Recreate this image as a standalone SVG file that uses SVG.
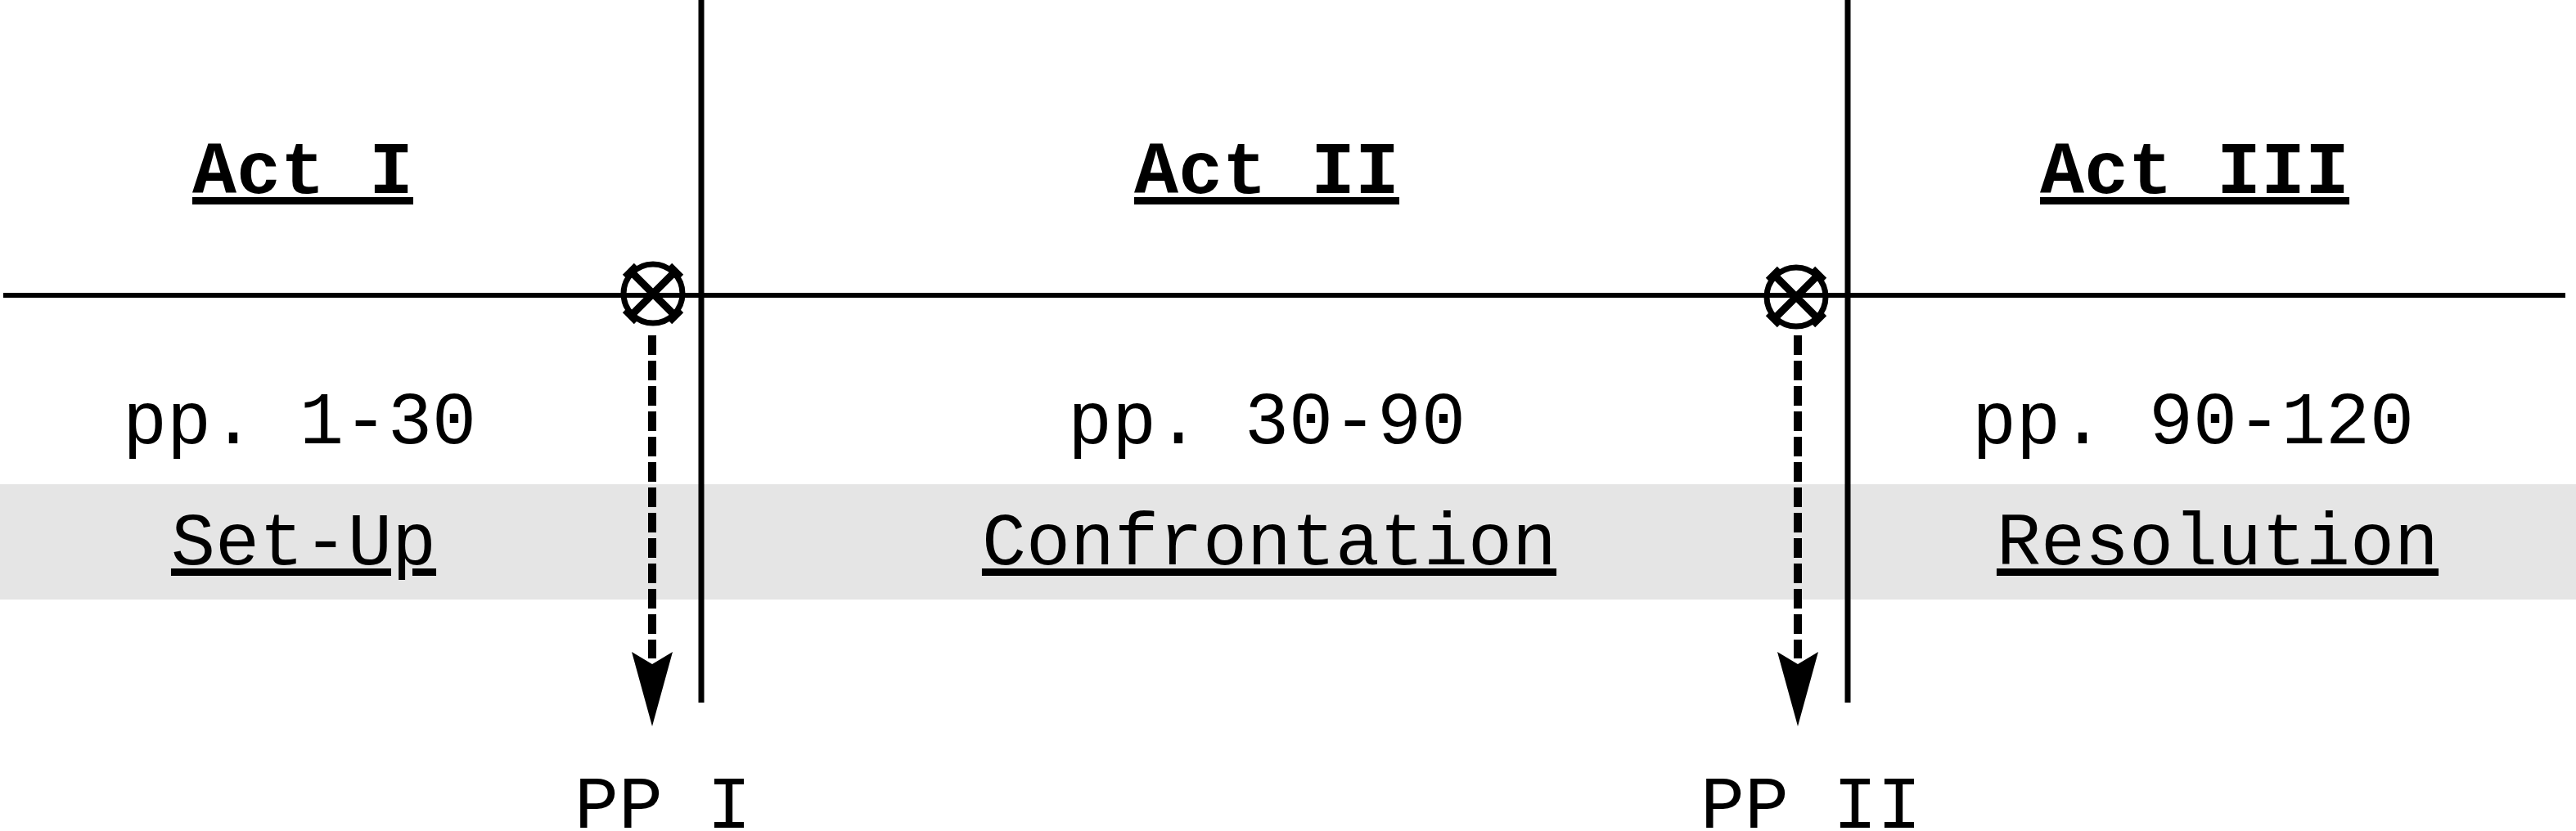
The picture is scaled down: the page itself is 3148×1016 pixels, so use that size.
<svg xmlns="http://www.w3.org/2000/svg" width="3148" height="1016" viewBox="0 0 3148 1016">
  <style>
    .t { font-family: "Liberation Mono", "Courier New", monospace; font-size: 90px; fill: #000; text-anchor: middle; }
    .b { font-weight: bold; }
    .u { text-decoration: underline; }
    .ln { stroke: #000; fill: none; }
    .mk { stroke: #000; stroke-width: 7; fill: none; }
    .mx { stroke: #000; stroke-width: 9; fill: none; }
    .dash { stroke: #000; stroke-width: 10; stroke-dasharray: 24 7; fill: none; }
  </style>
  <defs>
    <g id="cross">
      <circle cx="0" cy="0" r="36" class="mk"/>
      <line x1="-27" y1="-27" x2="27" y2="27" class="mx"/>
      <line x1="27" y1="-27" x2="-27" y2="27" class="mx"/>
      <line x1="20" y1="-34" x2="34" y2="-20" class="mx"/>
      <line x1="-34" y1="20" x2="-20" y2="34" class="mx"/>
      <line x1="-34" y1="-20" x2="-20" y2="-34" class="mx"/>
      <line x1="20" y1="34" x2="34" y2="20" class="mx"/>
    </g>
  </defs>
  <rect x="0" y="0" width="3148" height="1016" fill="#fff"/>
  <rect id="band" x="0" y="592" width="3148" height="141" fill="#e5e5e5"/>

  <g id="axes">
    <line x1="4" y1="361" x2="3135" y2="361" class="ln" stroke-width="6"/>
    <line x1="857" y1="0" x2="857" y2="859" class="ln" stroke-width="7"/>
    <line x1="2258" y1="0" x2="2258" y2="859" class="ln" stroke-width="7"/>
  </g>

  <g id="act1">
    <text class="t b u" x="370" y="236">Act I</text>
    <text class="t" x="366" y="542">pp. 1-30</text>
    <text class="t u" x="371" y="690">Set-Up</text>
  </g>
  <g id="act2">
    <text class="t b u" x="1548" y="236">Act II</text>
    <text class="t" x="1548" y="542">pp. 30-90</text>
    <text class="t u" x="1551" y="690">Confrontation</text>
  </g>
  <g id="act3">
    <text class="t b u" x="2682" y="236">Act III</text>
    <text class="t" x="2680" y="542">pp. 90-120</text>
    <text class="t u" x="2710" y="690">Resolution</text>
  </g>

  <g id="pp1">
    <use href="#cross" x="798" y="359"/>
    <text class="t" x="810" y="1012">PP I</text>
  </g>
  <g id="pp2">
    <use href="#cross" x="2195" y="363"/>
    <text class="t" x="2213" y="1012">PP II</text>
  </g>

  <g id="connectors">
    <line x1="797" y1="410" x2="797" y2="805" class="dash"/>
    <polygon points="797,888 772,797 797,812 822,797" fill="#000"/>
    <line x1="2197" y1="410" x2="2197" y2="805" class="dash"/>
    <polygon points="2197,888 2172,797 2197,812 2222,797" fill="#000"/>
  </g>
</svg>
